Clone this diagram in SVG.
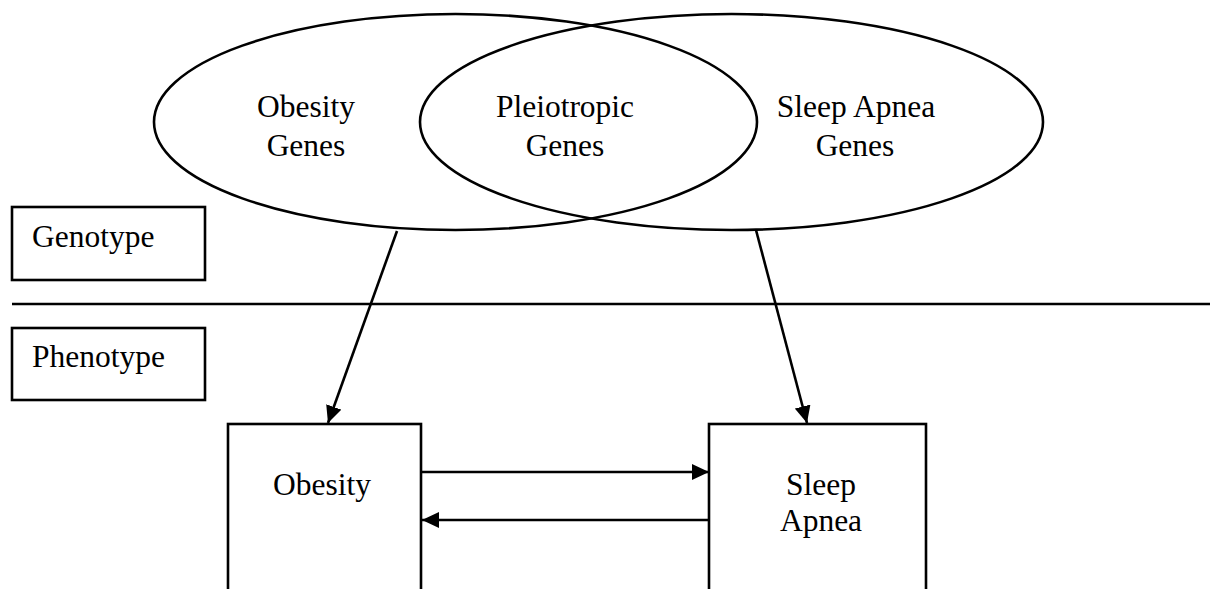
<svg xmlns="http://www.w3.org/2000/svg" width="1210" height="589" viewBox="0 0 1210 589">
<defs>
<style>
.s{fill:none;stroke:#000;stroke-width:2.6}
.t{font-family:"Liberation Serif","Times New Roman",serif;font-size:31.5px;fill:#000}
.c{text-anchor:middle}
</style>
<marker id="ah" markerWidth="18" markerHeight="16" refX="17" refY="8" orient="auto" markerUnits="userSpaceOnUse">
<path d="M0,0 L17,8 L0,16 Z" fill="#000"/>
</marker>
</defs>
<rect width="1210" height="589" fill="#fff"/>
<g id="obesity-genes">
<ellipse class="s" cx="455.5" cy="122" rx="301.5" ry="108"/>
<text class="t c" x="306" y="117">Obesity</text>
<text class="t c" x="306" y="156">Genes</text>
</g>
<g id="sleep-apnea-genes">
<ellipse class="s" cx="731.5" cy="122" rx="311.5" ry="108"/>
<text class="t c" x="856" y="117">Sleep Apnea</text>
<text class="t c" x="855" y="156">Genes</text>
</g>
<g id="pleiotropic-genes">
<text class="t c" x="565" y="117">Pleiotropic</text>
<text class="t c" x="565" y="156">Genes</text>
</g>
<g id="genotype">
<rect class="s" x="12" y="207" width="193" height="73"/>
<text class="t" x="32" y="247">Genotype</text>
</g>
<g id="divider">
<line class="s" x1="12" y1="304" x2="1210" y2="304"/>
</g>
<g id="phenotype">
<rect class="s" x="12" y="328" width="193" height="72"/>
<text class="t" x="32" y="367">Phenotype</text>
</g>
<g id="obesity">
<rect class="s" x="228" y="424" width="193" height="180"/>
<text class="t c" x="322" y="495">Obesity</text>
</g>
<g id="sleep-apnea">
<rect class="s" x="709" y="424" width="217" height="180"/>
<text class="t c" x="821" y="495">Sleep</text>
<text class="t c" x="821" y="531">Apnea</text>
</g>
<g id="connectors">
<line class="s" x1="397" y1="231" x2="328" y2="423" marker-end="url(#ah)"/>
<line class="s" x1="756" y1="230" x2="807" y2="423" marker-end="url(#ah)"/>
<line class="s" x1="421" y1="472" x2="709" y2="472" marker-end="url(#ah)"/>
<line class="s" x1="709" y1="520" x2="422" y2="520" marker-end="url(#ah)"/>
</g>
</svg>
